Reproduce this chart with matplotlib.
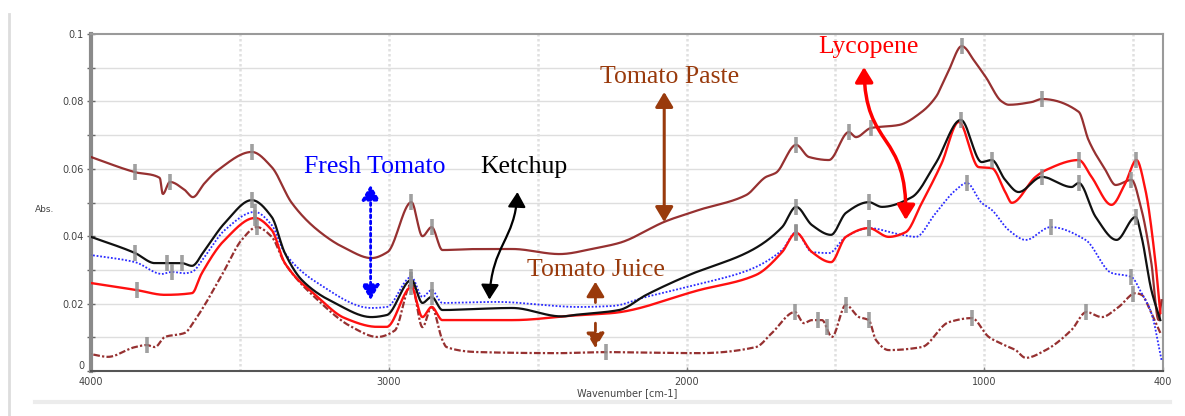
import numpy as np
import matplotlib
matplotlib.use("Agg")
import matplotlib.pyplot as plt
from matplotlib.patches import FancyArrowPatch
from matplotlib.path import Path
from matplotlib.lines import Line2D

# ---- spectra: wavenumber [cm-1] and absorbance ----
paste_wn = [4000, 3852, 3769, 3759, 3735, 3685, 3658, 3618, 3574, 3460, 3393, 3326, 3239, 3148, 3058,
            3004, 2924, 2887, 2856, 2820, 2695, 2585, 2427, 2303, 2226, 2068, 1958, 1800, 1733, 1700,
            1632, 1589, 1522, 1455, 1431, 1381, 1287, 1210, 1163, 1119, 1076, 1029, 995, 942, 918,
            841, 807, 683, 650, 593, 559, 506, 472, 439, 415, 405]
paste_abs = [0.0635, 0.059, 0.0573, 0.0525, 0.0561, 0.0537, 0.0516, 0.0558, 0.0596, 0.065, 0.0605,
             0.0499, 0.0418, 0.0365, 0.0335, 0.0353, 0.0501, 0.040, 0.0427, 0.0359, 0.0362, 0.0362,
             0.0347, 0.0365, 0.038, 0.0445, 0.0478, 0.0522, 0.0576, 0.0588, 0.0671, 0.0635, 0.0626,
             0.0709, 0.0694, 0.0721, 0.073, 0.0769, 0.0813, 0.0893, 0.0964, 0.0914, 0.0872, 0.0800,
             0.0790, 0.0798, 0.0807, 0.0769, 0.0685, 0.0596, 0.0552, 0.0567, 0.0478, 0.032, 0.0151,
             0.021]

ketchup_wn = [4000, 3852, 3785, 3745, 3695, 3661, 3618, 3551, 3460, 3393, 3349, 3292, 3182, 3058, 3007,
              2924, 2887, 2856, 2820, 2585, 2420, 2360, 2226, 2135, 1991, 1780, 1679, 1632, 1579, 1515,
              1465, 1388, 1344, 1243, 1163, 1079, 1009, 975, 930, 885, 807, 707, 683, 626, 556, 492,
              472, 439, 409]
ketchup_abs = [0.0398, 0.035, 0.032, 0.032, 0.032, 0.0312, 0.0359, 0.0439, 0.0507, 0.0457, 0.035,
               0.027, 0.0202, 0.016, 0.0166, 0.027, 0.0202, 0.022, 0.0181, 0.0187, 0.0162, 0.0168,
               0.0181, 0.0226, 0.0285, 0.0359, 0.0427, 0.0487, 0.0433, 0.0404, 0.0469, 0.0501,
               0.0487, 0.0516, 0.0617, 0.0745, 0.062, 0.0626, 0.0567, 0.0531, 0.0576, 0.0546,
               0.0558, 0.0457, 0.0389, 0.0457, 0.0398, 0.024, 0.0151]

fresh_wn = [4000, 3852, 3762, 3728, 3685, 3661, 3618, 3551, 3450, 3393, 3349, 3239, 3058, 3007, 2924,
            2887, 2856, 2820, 2638, 2360, 2249, 2135, 1958, 1790, 1679, 1632, 1579, 1522, 1465, 1388,
            1277, 1230, 1163, 1096, 1059, 1009, 975, 918, 861, 777, 660, 573, 506, 472, 439, 405]
fresh_abs = [0.0344, 0.0323, 0.0288, 0.0294, 0.029, 0.0294, 0.034, 0.0418, 0.0472, 0.0433, 0.035,
             0.0261, 0.0187, 0.019, 0.0279, 0.022, 0.024, 0.0202, 0.0205, 0.019, 0.0193, 0.022,
             0.0258, 0.030, 0.0359, 0.0412, 0.0353, 0.035, 0.0398, 0.0424, 0.0404, 0.0398, 0.0469,
             0.0537, 0.0558, 0.0499, 0.0478, 0.0418, 0.0389, 0.0427, 0.0389, 0.0291, 0.0279,
             0.0231, 0.0172, 0.0033]

lyco_wn = [4000, 3846, 3752, 3661, 3628, 3551, 3450, 3393, 3349, 3239, 3148, 3038, 3007, 2924, 2887,
           2856, 2820, 2585, 2360, 2249, 1958, 1767, 1679, 1632, 1579, 1515, 1465, 1388, 1321, 1264,
           1210, 1143, 1086, 1019, 975, 928, 908, 828, 794, 683, 640, 573, 526, 489, 459, 425, 409]
lyco_abs = [0.0261, 0.024, 0.0226, 0.0231, 0.029, 0.0389, 0.0454, 0.0418, 0.032, 0.022, 0.0157,
            0.0131, 0.0131, 0.0249, 0.016, 0.019, 0.0151, 0.0151, 0.0166, 0.0172, 0.0240, 0.0285,
            0.0353, 0.041, 0.0353, 0.0323, 0.0398, 0.0424, 0.0398, 0.0412, 0.0499, 0.0617, 0.0739,
            0.0605, 0.0602, 0.0528, 0.0499, 0.0576, 0.0596, 0.0626, 0.0576, 0.0493, 0.0558,
            0.0626, 0.0537, 0.032, 0.0172]

juice_wn = [4000, 3943, 3852, 3812, 3785, 3752, 3685, 3651, 3608, 3551, 3494, 3443, 3393, 3349, 3239,
            3125, 3038, 2980, 2924, 2887, 2856, 2820, 2806, 2695, 2427, 2270, 1958, 1767, 1713, 1636,
            1606, 1579, 1545, 1512, 1465, 1421, 1388, 1364, 1321, 1210, 1119, 1042, 985, 928, 895,
            861, 794, 707, 657, 606, 549, 492, 472, 439, 409]
juice_abs = [0.005, 0.0042, 0.0071, 0.0077, 0.0071, 0.0101, 0.0113, 0.0151, 0.0211, 0.030, 0.0389,
             0.0427, 0.0398, 0.032, 0.0211, 0.0131, 0.0101, 0.012, 0.026, 0.013, 0.019, 0.0092,
             0.0071, 0.0056, 0.0053, 0.0056, 0.0053, 0.0071, 0.0113, 0.0175, 0.0142, 0.0151,
             0.0151, 0.0101, 0.0196, 0.016, 0.0151, 0.0092, 0.0062, 0.0071, 0.0145, 0.0157,
             0.0101, 0.0075, 0.0062, 0.0039, 0.0062, 0.0122, 0.0175, 0.016, 0.019, 0.0231,
             0.0226, 0.0172, 0.0113]

# picked peak positions for each spectrum
paste_peaks = [3852, 3735, 3460, 2924, 2856, 1632, 1455, 1381, 1076, 807, 506]
ketchup_peaks = [3852, 3745, 3695, 3460, 2924, 2856, 1632, 1388, 1079, 975, 807, 683, 492]
fresh_peaks = [3728, 3450, 2924, 2856, 1632, 1388, 1059, 777, 506]
lyco_peaks = [3846, 3450, 2924, 1632, 1388, 683, 489]
juice_peaks = [3812, 3443, 2270, 1636, 1560, 1530, 1465, 1388, 1042, 657, 500]

x_ticks = [4000, 3000, 2000, 1000, 400]
x_ticklabels = ["4000", "3000", "2000", "1000", "400"]
y_ticks = [0, 0.02, 0.04, 0.06, 0.08, 0.1]
y_ticklabels = ["0", "0.02", "0.04", "0.06", "0.08", "0.1"]

PASTE = "#8b1a1a"
JUICE = "#8b1a1a"
NOTE_BROWN = "#993a0c"

fig = plt.figure(figsize=(11.85, 4.16), dpi=100)
ax = fig.add_axes([91 / 1185, 1 - 371 / 416, (1163 - 91) / 1185, (371 - 34) / 416])

ax.set_xlim(4000, 400)
ax.set_ylim(0, 0.1)

# grids
for v in np.arange(0.01, 0.1, 0.01):
    ax.axhline(v, color="#dedede", lw=1.0, zorder=0)
for w in range(3500, 400, -500):
    ax.axvline(w, color="#e0e0e0", lw=1.8, ls=(0, (1, 1)), zorder=0)


def pchip(xk, yk, xs):
    """Shape-preserving piecewise cubic through the given points."""
    h = np.diff(xk)
    d = np.diff(yk) / h
    m = np.zeros_like(yk)
    for i in range(1, len(xk) - 1):
        if d[i - 1] * d[i] > 0:
            w1 = 2 * h[i] + h[i - 1]
            w2 = h[i] + 2 * h[i - 1]
            m[i] = (w1 + w2) / (w1 / d[i - 1] + w2 / d[i])
    m[0], m[-1] = d[0], d[-1]
    idx = np.clip(np.searchsorted(xk, xs) - 1, 0, len(xk) - 2)
    t = (xs - xk[idx]) / h[idx]
    h00 = 2 * t**3 - 3 * t**2 + 1
    h10 = t**3 - 2 * t**2 + t
    h01 = -2 * t**3 + 3 * t**2
    h11 = t**3 - t**2
    return (h00 * yk[idx] + h10 * h[idx] * m[idx] + h01 * yk[idx + 1]
            + h11 * h[idx] * m[idx + 1])


def curve(wn, ab, n=1500):
    w = np.asarray(wn, float)[::-1]
    a = np.asarray(ab, float)[::-1]
    ww = np.linspace(w.min(), w.max(), n)
    return ww, pchip(w, a, ww)


series = [
    (juice_wn, juice_abs, JUICE, dict(lw=1.6, ls=(0, (3, 1, 1, 1)), alpha=0.9), juice_peaks),
    (paste_wn, paste_abs, PASTE, dict(lw=1.6, alpha=0.9), paste_peaks),
    (fresh_wn, fresh_abs, "#2a2aff", dict(lw=1.3, ls=(0, (1, 1))), fresh_peaks),
    (lyco_wn, lyco_abs, "#ff1010", dict(lw=1.7), lyco_peaks),
    (ketchup_wn, ketchup_abs, "#111111", dict(lw=1.6), ketchup_peaks),
]

for wn, ab, col, kw, peaks in series:
    ww, aa = curve(wn, ab)
    ax.plot(ww, aa, color=col, zorder=3, **kw)
    py = np.interp(peaks, ww, aa)
    ax.plot(peaks, py, ls="none", marker="|", ms=11, mew=2.6, color="#8f8f8f",
            alpha=0.85, zorder=4)

# axes styling
for s in ("top", "right"):
    ax.spines[s].set_color("#9a9a9a")
    ax.spines[s].set_linewidth(1.5)
ax.spines["left"].set_color("#8a8a8a")
ax.spines["left"].set_linewidth(3)
ax.spines["bottom"].set_color("#555555")
ax.spines["bottom"].set_linewidth(1.5)

ax.set_xticks(x_ticks)
ax.set_xticklabels(x_ticklabels)
ax.set_yticks(y_ticks)
ax.set_yticklabels(y_ticklabels)
ax.set_yticks([0.01, 0.03, 0.05, 0.07, 0.09], minor=True)
ax.set_xticks([], minor=True)
ax.tick_params(axis="y", which="both", direction="inout", length=6, width=1, color="#666666",
               labelsize=7, labelcolor="#444444", pad=2)
ax.tick_params(axis="x", which="both", direction="in", length=3, width=1, color="#888888",
               labelsize=7, labelcolor="#444444", pad=4)
# the zero label sits just above the corner, as the x labels sit below it
ax.get_yticklabels()[0].set_verticalalignment("bottom")

ax.set_xlabel("Wavenumber [cm-1]", fontsize=7, color="#444444", labelpad=1)
fig.text(45 / 1185, 1 - 209 / 416, "Abs.", fontsize=6.5, color="#444444",
         ha="center", va="center")

# annotations
serif = ["Liberation Serif", "DejaVu Serif"]
ax.text(3048, 0.0605, "Fresh Tomato", color="#0000ff", fontsize=18.5, family=serif,
        ha="center", va="center", zorder=6)
ax.text(2545, 0.0605, "Ketchup", color="black", fontsize=18.5, family=serif,
        ha="center", va="center", zorder=6)
ax.text(2058, 0.0872, "Tomato Paste", color=NOTE_BROWN, fontsize=18.5, family=serif,
        ha="center", va="center", zorder=6)
ax.text(2303, 0.0300, "Tomato Juice", color=NOTE_BROWN, fontsize=18.5, family=serif,
        ha="center", va="center", zorder=6)
ax.text(1388, 0.0961, "Lycopene", color="#ff0000", fontsize=18.5, family=serif,
        ha="center", va="center", zorder=6)

head = "<|-|>,head_length=0.45,head_width=0.27"
one_head = "-|>,head_length=0.45,head_width=0.27"

# fresh tomato: dotted double arrow
ax.add_patch(FancyArrowPatch((3061, 0.0211), (3061, 0.0552), arrowstyle=head, mutation_scale=20,
                             color="#0000ff", lw=2.0, ls=(0, (1, 1.2)), zorder=6,
                             shrinkA=0, shrinkB=0))
# tomato paste: straight double arrow
ax.add_patch(FancyArrowPatch((2075, 0.0442), (2075, 0.0828), arrowstyle=head, mutation_scale=20,
                             color=NOTE_BROWN, lw=2.2, zorder=6, shrinkA=0, shrinkB=0))
# tomato juice: solid arrow up, dashed arrow down
ax.add_patch(FancyArrowPatch((2306, 0.0203), (2306, 0.0265), arrowstyle=one_head, mutation_scale=20,
                             color=NOTE_BROWN, lw=2.0, zorder=6, shrinkA=0, shrinkB=0))
ax.add_patch(FancyArrowPatch((2306, 0.0142), (2306, 0.0068), arrowstyle=one_head, mutation_scale=20,
                             color=NOTE_BROWN, lw=2.0, ls=(0, (3, 2)), zorder=6,
                             shrinkA=0, shrinkB=0))

# ketchup: S-shaped double arrow
k_path = Path([(2568, 0.0531), (2575, 0.0389), (2655, 0.0374), (2662, 0.0212)],
              [Path.MOVETO, Path.CURVE4, Path.CURVE4, Path.CURVE4])
ax.add_patch(FancyArrowPatch(path=k_path, arrowstyle=head, mutation_scale=20, color="black",
                             lw=1.6, zorder=6))
# lycopene: S-shaped double arrow
l_path = Path([(1404, 0.0902), (1401, 0.0656), (1258, 0.0715), (1264, 0.0448)],
              [Path.MOVETO, Path.CURVE4, Path.CURVE4, Path.CURVE4])
ax.add_patch(FancyArrowPatch(path=l_path, arrowstyle=head, mutation_scale=20, color="#ff0000",
                             lw=2.5, zorder=6))

# page frame lines around the plot
fig.add_artist(Line2D([9 / 1185, 9 / 1185], [0, 1 - 14 / 416], color="#dddddd", lw=2))
fig.add_artist(Line2D([35 / 1185, 1170 / 1185], [1 - 402 / 416, 1 - 402 / 416],
                      color="#ececec", lw=3))

fig.savefig("out.png", dpi=100)
